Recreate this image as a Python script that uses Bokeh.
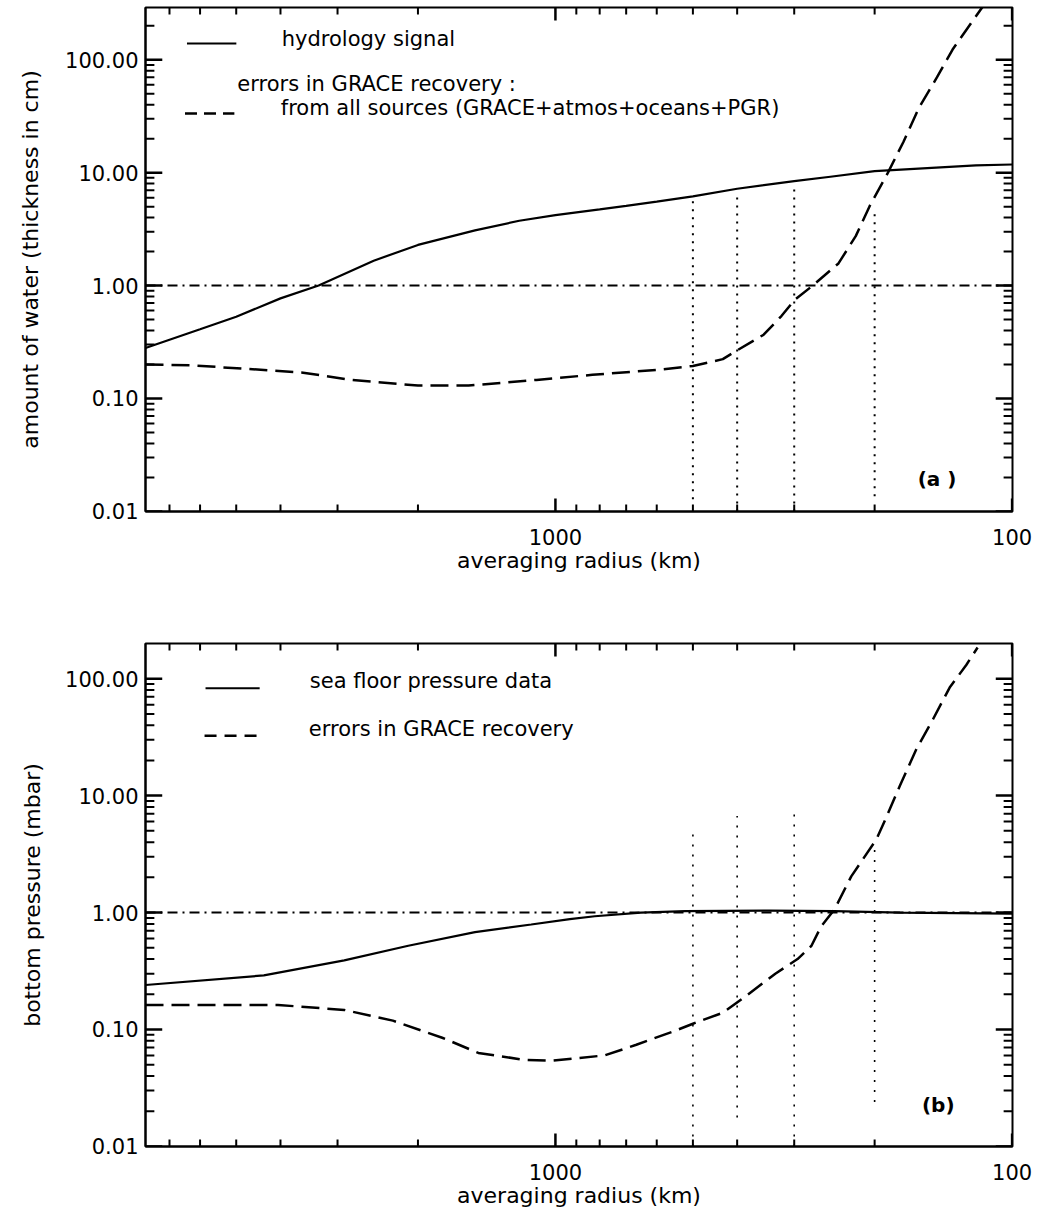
import math
from bokeh.plotting import figure
from bokeh.layouts import column
from bokeh.models import (Range1d, FixedTicker, PrintfTickFormatter, LogAxis, Span)
from bokeh.core.properties import value
from bokeh.embed import file_html
from bokeh.resources import INLINE

FONT = "DejaVu Sans"

# ---------------- data, panel (a) ----------------
a_signal_radius = [7900, 6000, 5000, 4000, 3300, 2500, 2000, 1500, 1200, 1000,
                   800, 700, 600, 500, 400, 300, 250, 200, 150, 120, 100]
a_signal_cm = [0.28, 0.41, 0.53, 0.77, 1.0, 1.66, 2.29, 3.08, 3.75, 4.2,
               4.72, 5.07, 5.54, 6.17, 7.2, 8.4, 9.2, 10.3, 11.0, 11.6, 11.8]

a_error_radius = [7900, 6300, 3600, 2800, 2000, 1550, 1250, 1100, 830, 600,
                  500, 430, 400, 350, 320, 300, 275, 240, 220, 205, 187, 173,
                  160, 146, 135, 116]
a_error_cm = [0.20, 0.197, 0.17, 0.146, 0.13, 0.13, 0.14, 0.146, 0.162, 0.179,
              0.194, 0.223, 0.267, 0.367, 0.537, 0.74, 0.98, 1.57, 2.74, 5.07,
              10.0, 18.7, 37.4, 70.0, 123.0, 295.0]

a_mark_radius = [500, 400, 300, 200]
a_mark_top = [5.7, 6.6, 7.8, 4.7]
a_mark_bottom = [0.0128, 0.01, 0.01, 0.0136]

# ---------------- data, panel (b) ----------------
b_signal_radius = [7900, 4350, 2900, 2100, 1500, 1130, 930, 820, 650, 520,
                   340, 245, 176, 100]
b_signal_mbar = [0.24, 0.29, 0.39, 0.52, 0.68, 0.79, 0.88, 0.93, 1.0, 1.03,
                 1.04, 1.03, 1.0, 0.98]

b_error_radius = [7900, 4050, 2900, 2270, 1770, 1475, 1170, 1025, 780, 665,
                  545, 500, 430, 380, 330, 295, 275, 262, 245, 225, 198, 188,
                  176, 162, 149, 137, 126, 119]
b_error_mbar = [0.162, 0.162, 0.147, 0.119, 0.085, 0.063, 0.055, 0.054, 0.06,
                0.074, 0.098, 0.112, 0.139, 0.197, 0.30, 0.40, 0.52, 0.76,
                1.06, 2.04, 4.26, 6.7, 12.2, 25.0, 45.0, 84.0, 131.0, 185.0]

b_mark_radius = [500, 400, 300, 200]
b_mark_top = [4.9, 6.7, 6.9, 3.6]
b_mark_bottom = [0.01, 0.0177, 0.01, 0.024]

ref_level = 1.0

# ---------------- ticks / labels ----------------
X_START, X_END = 7900, 99.8
Y_BOTTOM = 0.00998

x_major_ticks = [1000, 100]
x_minor_ticks = [200, 300, 400, 500, 600, 700, 800, 900,
                 2000, 3000, 4000, 5000, 6000, 7000]
y_major_ticks = [0.01, 0.1, 1, 10, 100]
y_minor_base = [2, 3, 4, 5, 6, 7, 8, 9]
y_decades = [0.01, 0.1, 1, 10, 100]

x_title = "averaging radius (km)"
a_y_title = "amount of water (thickness in cm)"
b_y_title = "bottom pressure (mbar)"
a_legend = ["hydrology signal", "errors in GRACE recovery :",
            "from all sources (GRACE+atmos+oceans+PGR)"]
b_legend = ["sea floor pressure data", "errors in GRACE recovery"]


def style_axis(ax):
    ax.axis_line_width = 2
    ax.axis_line_color = "black"
    ax.major_tick_in = 0
    ax.major_tick_out = 0
    ax.minor_tick_in = 0
    ax.minor_tick_out = 0
    ax.major_label_text_font = FONT
    ax.major_label_text_font_size = "21px"
    ax.major_label_text_color = "black"
    ax.axis_label_text_font = FONT
    ax.axis_label_text_font_size = "22px"
    ax.axis_label_text_font_style = "normal"
    ax.axis_label_text_color = "black"


def frame_x(fw, px):
    lx0, lx1 = math.log10(X_START), math.log10(X_END)
    return 10 ** (lx0 + px / fw * (lx1 - lx0))


def frame_y(fh, ytop, py):
    ly0, ly1 = math.log10(ytop), math.log10(Y_BOTTOM)
    return 10 ** (ly0 + py / fh * (ly1 - ly0))


def make_panel(ytop, width, height, bl, br, bt, bb, ylabel, ylab_standoff):
    fw, fh = width - bl - br, height - bt - bb
    p = figure(width=width, height=height, x_axis_type="log", y_axis_type="log",
               x_range=Range1d(X_START, X_END), y_range=Range1d(Y_BOTTOM, ytop),
               output_backend="svg", toolbar_location=None,
               x_axis_location=None, y_axis_location=None,
               min_border_left=bl, min_border_right=br,
               min_border_top=bt, min_border_bottom=bb)
    p.grid.visible = False
    p.outline_line_color = "black"
    p.outline_line_width = 2

    y_minor = [m * d for d in y_decades for m in y_minor_base if m * d < ytop]
    xt = FixedTicker(ticks=x_major_ticks, minor_ticks=x_minor_ticks)
    yt = FixedTicker(ticks=y_major_ticks, minor_ticks=y_minor)

    bottom = LogAxis(ticker=xt, formatter=PrintfTickFormatter(format="%d"),
                     axis_label=x_title)
    left = LogAxis(ticker=yt, formatter=PrintfTickFormatter(format="%.2f"),
                   axis_label=ylabel)
    style_axis(bottom)
    style_axis(left)
    bottom.major_label_standoff = 17
    bottom.axis_label_standoff = 0
    left.major_label_standoff = 7
    left.axis_label_standoff = ylab_standoff
    p.add_layout(bottom, "below")
    p.add_layout(left, "left")

    # inward tick marks on all four sides of the box
    for ticks, ln, lw in ((y_major_ticks, 17, 2.5), (y_minor, 9, 2)):
        n = len(ticks)
        p.segment(x0=[X_START] * n, y0=ticks, x1=[frame_x(fw, ln)] * n, y1=ticks,
                  line_color="black", line_width=lw)
        p.segment(x0=[X_END] * n, y0=ticks, x1=[frame_x(fw, fw - ln)] * n,
                  y1=ticks, line_color="black", line_width=lw)
    for ticks, ln, lw in ((x_major_ticks, 13, 2.5), (x_minor_ticks, 7, 2)):
        n = len(ticks)
        p.segment(x0=ticks, y0=[Y_BOTTOM] * n, x1=ticks,
                  y1=[frame_y(fh, ytop, fh - ln)] * n,
                  line_color="black", line_width=lw)
        p.segment(x0=ticks, y0=[ytop] * n, x1=ticks,
                  y1=[frame_y(fh, ytop, ln)] * n,
                  line_color="black", line_width=lw)

    p.add_layout(Span(location=ref_level, dimension="width", line_color="black",
                      line_width=2, line_dash="10 5 2 5"))
    return p


def add_text(p, fw, fh, ytop, px, py, txt, size="21px", style="normal"):
    p.text(x=[frame_x(fw, px)], y=[frame_y(fh, ytop, py)], text=[txt],
           text_font=value(FONT), text_font_size=size, text_font_style=style,
           text_color="black", text_baseline="middle", text_align="left")


def add_sample(p, fw, fh, ytop, px0, px1, py, dash, lw):
    y = frame_y(fh, ytop, py)
    p.line(x=[frame_x(fw, px0), frame_x(fw, px1)], y=[y, y], line_color="black",
           line_width=lw, line_dash=dash)


# ---------------- panel (a) ----------------
A_YTOP = 290
A_W, A_H, A_BL, A_BR, A_BT, A_BB = 1048, 600, 145, 25, 7, 89
A_FW, A_FH = A_W - A_BL - A_BR, A_H - A_BT - A_BB
pa = make_panel(A_YTOP, A_W, A_H, A_BL, A_BR, A_BT, A_BB, a_y_title, 19)
pa.segment(x0=a_mark_radius, y0=a_mark_bottom, x1=a_mark_radius, y1=a_mark_top,
           line_color="black", line_width=2, line_dash="2 6")
pa.line(a_signal_radius, a_signal_cm, line_color="black", line_width=2.2)
pa.line(a_error_radius, a_error_cm, line_color="black", line_width=2.5,
        line_dash="18 8")
add_sample(pa, A_FW, A_FH, A_YTOP, 42, 92, 36, "solid", 2)
add_text(pa, A_FW, A_FH, A_YTOP, 138, 31, a_legend[0])
add_text(pa, A_FW, A_FH, A_YTOP, 93, 76, a_legend[1])
add_sample(pa, A_FW, A_FH, A_YTOP, 40, 90, 106, "12 7", 2.5)
add_text(pa, A_FW, A_FH, A_YTOP, 137, 100, a_legend[2])
add_text(pa, A_FW, A_FH, A_YTOP, 782, 471, "(a )", size="20px", style="bold")

# ---------------- panel (b) ----------------
B_YTOP = 200
B_W, B_H, B_BL, B_BR, B_BT, B_BB = 1048, 610, 131, 36, 43, 60
B_FW, B_FH = B_W - B_BL - B_BR, B_H - B_BT - B_BB
pb = make_panel(B_YTOP, B_W, B_H, B_BL, B_BR, B_BT, B_BB, b_y_title, 17)
pb.segment(x0=b_mark_radius, y0=b_mark_bottom, x1=b_mark_radius, y1=b_mark_top,
           line_color="black", line_width=1.6, line_dash="2 8")
pb.line(b_signal_radius, b_signal_mbar, line_color="black", line_width=2.2)
pb.line(b_error_radius, b_error_mbar, line_color="black", line_width=2.5,
        line_dash="18 8")
add_sample(pb, B_FW, B_FH, B_YTOP, 61, 116, 45, "solid", 2)
add_text(pb, B_FW, B_FH, B_YTOP, 167, 38, b_legend[0])
add_sample(pb, B_FW, B_FH, B_YTOP, 60, 116, 93, "12 8", 2.5)
add_text(pb, B_FW, B_FH, B_YTOP, 166, 86, b_legend[1])
add_text(pb, B_FW, B_FH, B_YTOP, 789, 465, "(b)", size="20px", style="bold")

layout = column(pa, pb)
open("out.html", "w").write(file_html(layout, INLINE))
